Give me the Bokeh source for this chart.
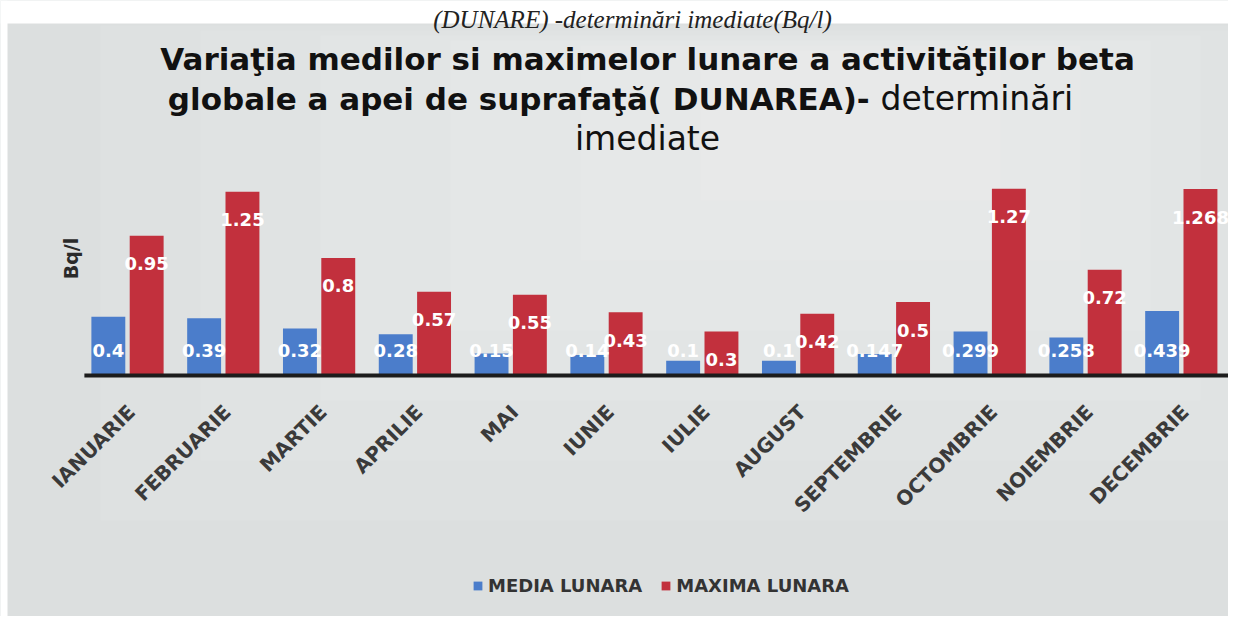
import math
from bokeh.plotting import figure
from bokeh.models import ColumnDataSource, Range1d, Legend, LegendItem, BoxAnnotation
from bokeh.core.properties import value
from bokeh.transform import dodge
from bokeh.embed import file_html
from bokeh.resources import INLINE

# ---------------- data ----------------
months = ["IANUARIE", "FEBRUARIE", "MARTIE", "APRILIE", "MAI", "IUNIE",
          "IULIE", "AUGUST", "SEPTEMBRIE", "OCTOMBRIE", "NOIEMBRIE", "DECEMBRIE"]
media = [0.4, 0.39, 0.32, 0.28, 0.15, 0.14, 0.1, 0.1, 0.147, 0.299, 0.258, 0.439]
maxima = [0.95, 1.25, 0.8, 0.57, 0.55, 0.43, 0.3, 0.42, 0.5, 1.27, 0.72, 1.268]
series_names = ["MEDIA LUNARA", "MAXIMA LUNARA"]
y_axis_label = "Bq/l"
caption = "(DUNARE) -determinări imediate(Bq/l)"
title_line1 = "Variaţia medilor si maximelor lunare a activităţilor beta"
title_line2_bold = "globale a apei de suprafaţă( DUNAREA)- "
title_line2_normal = "determinări"
title_line3 = "imediate"

BLUE = "#4b7dcb"
RED = "#c2303d"
BG = "#dcdfdf"

# ---------------- geometry helpers (page styling only) ----------------
PX_X = 95.8      # pixels per category
PX_Y = 147.0     # pixels per Bq/l
X0_PX = 127.0    # pixel position of first category inside the figure
Y0_PX = 375.0    # pixel position (from top) of the zero line
W, H = 1228, 616


def dx(px):
    return (px - X0_PX) / PX_X


def dy(py):
    return (Y0_PX - py) / PX_Y


idx = list(range(len(months)))
src = ColumnDataSource(dict(
    x=idx, media=media, maxima=maxima,
    media_lbl=[str(v) for v in media],
    maxima_lbl=[str(v) for v in maxima],
    month=months, zero=[0.0] * len(months),
))

p = figure(width=W, height=H,
           x_range=Range1d(dx(0), dx(W)), y_range=Range1d(dy(H), dy(0)),
           output_backend="svg", toolbar_location=None,
           x_axis_location=None, y_axis_location=None,
           min_border_left=0, min_border_right=0, min_border_top=0, min_border_bottom=0)
p.background_fill_color = BG
p.border_fill_color = BG
p.outline_line_color = None
p.grid.visible = False

# lighter centre of the scanned sheet (soft steps)
for (l, r, t, b, a) in [(100, 1228, 25, 520, 0.07), (200, 1228, 30, 460, 0.07),
                        (320, 1200, 35, 400, 0.08), (450, 1150, 40, 330, 0.08),
                        (580, 1080, 45, 260, 0.08), (700, 1000, 50, 200, 0.08)]:
    p.add_layout(BoxAnnotation(left=dx(l), right=dx(r), top=dy(t), bottom=dy(b),
                               fill_color="white", fill_alpha=a, line_color=None,
                               level="underlay"))
# white paper strips at the top and left of the scan
p.add_layout(BoxAnnotation(bottom=dy(23), fill_color="white", fill_alpha=1.0,
                           line_color=None, level="underlay"))
p.add_layout(BoxAnnotation(right=dx(7), fill_color="white", fill_alpha=1.0,
                           line_color=None, level="underlay"))

# bars
r1 = p.vbar(x=dodge("x", -0.2), top="media", width=0.354, source=src,
            fill_color=BLUE, line_color=None)
r2 = p.vbar(x=dodge("x", 0.2), top="maxima", width=0.354, source=src,
            fill_color=RED, line_color=None)

# category axis line
p.segment(x0=idx[0] - 0.45, y0=0, x1=idx[-1] + 0.7, y1=0,
          line_color="#1c1c1c", line_width=4)

# category labels (rotated)
p.text(x="x", y="zero", text="month", source=src, angle=math.pi / 4,
       text_align="right", text_baseline="middle", x_offset=4, y_offset=33,
       text_color="#3a3a3a", text_font=value("DejaVu Sans"),
       text_font_style="bold", text_font_size="20px")

# data labels
p.text(x=dodge("x", -0.2), y="zero", text="media_lbl", source=src,
       text_align="center", text_baseline="middle", y_offset=-25,
       text_color="white", text_font=value("DejaVu Sans"),
       text_font_style="bold", text_font_size="18px")
p.text(x=dodge("x", 0.2), y="maxima", text="maxima_lbl", source=src,
       text_align="center", text_baseline="middle", y_offset=28,
       text_color="white", text_font=value("DejaVu Sans"),
       text_font_style="bold", text_font_size="18px")

# caption at the very top of the scanned page
p.text(x=[dx(632)], y=[dy(19)], text=[caption], text_align="center",
       text_baseline="alphabetic", text_font=value("Liberation Serif"),
       text_font_style="italic", text_font_size="25px", text_color="#222222")

# chart title
p.text(x=[dx(647)], y=[dy(58)], text=[title_line1], text_align="center",
       text_baseline="alphabetic", text_font=value("DejaVu Sans"),
       text_font_style="bold", text_font_size="31px", text_color="#111111")
p.text(x=[dx(880)], y=[dy(98)], text=[title_line2_bold], text_align="right",
       text_baseline="alphabetic", text_font=value("DejaVu Sans"),
       text_font_style="bold", text_font_size="31px", text_color="#111111")
p.text(x=[dx(880)], y=[dy(98)], text=[title_line2_normal], text_align="left",
       text_baseline="alphabetic", text_font=value("DejaVu Sans"),
       text_font_size="33px", text_color="#111111")
p.text(x=[dx(647)], y=[dy(138)], text=[title_line3], text_align="center",
       text_baseline="alphabetic", text_font=value("DejaVu Sans"),
       text_font_size="33px", text_color="#111111")

# y-axis title
p.text(x=[dx(70)], y=[dy(258)], text=[y_axis_label], angle=math.pi / 2,
       text_align="center", text_baseline="middle", text_font=value("DejaVu Sans"),
       text_font_style="bold", text_font_size="19px", text_color="#2a2a2a")

legend = Legend(items=[LegendItem(label=series_names[0], renderers=[r1]),
                       LegendItem(label=series_names[1], renderers=[r2])],
                location=(472, 20), orientation="horizontal",
                glyph_width=11, glyph_height=11, label_standoff=5, spacing=18,
                padding=0, margin=0, border_line_color=None,
                background_fill_alpha=0.0,
                label_text_font="DejaVu Sans", label_text_font_style="bold",
                label_text_font_size="18px", label_text_color="#333333")
p.add_layout(legend)

open("out.html", "w").write(file_html(p, INLINE))
